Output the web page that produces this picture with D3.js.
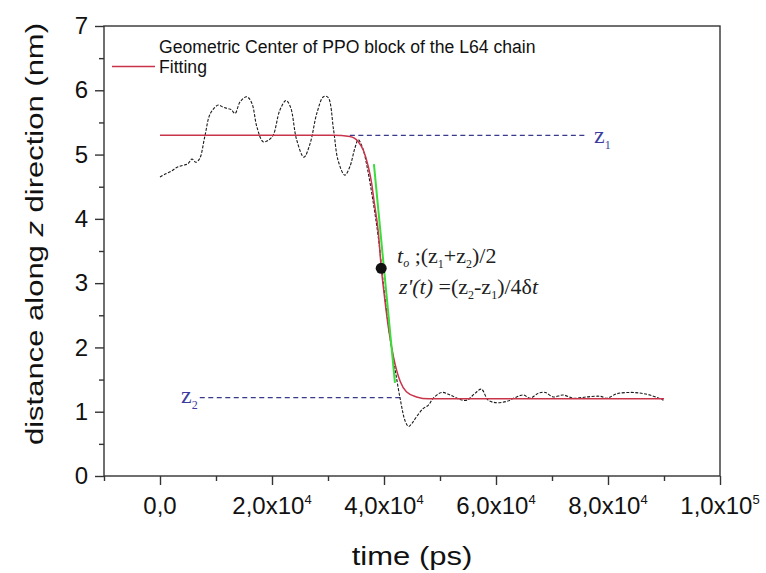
<!DOCTYPE html>
<html><head><meta charset="utf-8">
<script src="https://cdn.jsdelivr.net/npm/d3@7"></script>
<style>body{margin:0;background:#fff}svg{display:block}</style>
</head><body>
<svg id="c" width="766" height="573"></svg>
<script>
// ---- data ----
const traceT = [0,1000,2000,3000,4000,5000,5700,6400,7100,8000,9000,10400,11200,11900,12700,13400,14300,15500,16400,17300,18400,19300,20200,21400,22500,23300,24400,25700,26800,28000,29200,30000,31000,31800,33000,33900,34800,35400,36200,37000,38000,39000,40000,41000,42000,43000,43800,44400,45000,45800,47000,47900,48800,50300,51800,53600,54800,56300,57400,58600,60100,61900,63700,64900,66100,67600,68800,70200,72000,73800,76200,78600,79800,81600,84000,85700,87500,89900];
const traceZ = [4.65,4.70,4.74,4.80,4.83,4.86,4.93,4.88,4.94,5.28,5.64,5.77,5.74,5.72,5.70,5.64,5.82,5.90,5.80,5.43,5.20,5.22,5.30,5.69,5.84,5.74,5.23,4.96,5.17,5.64,5.90,5.89,5.38,4.91,4.68,4.81,5.10,5.23,5.10,4.80,4.30,3.70,2.90,2.20,1.65,1.15,0.85,0.77,0.82,0.92,1.05,1.10,1.21,1.30,1.26,1.19,1.18,1.29,1.35,1.18,1.14,1.16,1.23,1.26,1.21,1.29,1.30,1.23,1.26,1.21,1.23,1.24,1.21,1.28,1.30,1.29,1.26,1.18];
const fitT = [0,31000,33900,35400,36300,37200,37800,38200,39000,39500,40000,40800,41700,42900,44000,45800,48000,90000];
const fitZ = [5.30,5.30,5.28,5.20,5.07,4.81,4.55,4.29,3.78,3.25,2.85,2.30,1.85,1.47,1.31,1.23,1.20,1.20];
const tangentT = [38200,41960];
const tangentZ = [4.85,1.45];
const midPoint = {t:39500, z:3.23};
const z1Line = {t0:33900, t1:76400, z:5.30};
const z2Line = {t0:7100, t1:43000, z:1.22};
const xMajor = [0,20000,40000,60000,80000,100000];
const xMinor = [-10000,10000,30000,50000,70000,90000];
const xLabelMant = ["0,0","2,0","4,0","6,0","8,0","1,0"];
const xLabelExp = [null,"4","4","4","4","5"];
const yMajor = [0,1,2,3,4,5,6,7];
const yMinor = [0.5,1.5,2.5,3.5,4.5,5.5,6.5];
const legendLabels = ["Geometric Center of PPO block of the L64 chain","Fitting"];

// ---- layout ----
const L=104, R=720, T=26, B=476;
const svg = d3.select("#c");
const x = d3.scaleLinear().domain([-10000,100000]).range([L,R]);
const y = d3.scaleLinear().domain([0,7]).range([B,T]);
const axisCol = "#333";
const sans = "'Liberation Sans', Arial, sans-serif";
const serif = "'Liberation Serif', 'Times New Roman', serif";

// frame
svg.append("rect").attr("x",L).attr("y",T).attr("width",R-L).attr("height",B-T)
  .attr("fill","none").attr("stroke",axisCol).attr("stroke-width",1.4);

// axes
const gx = svg.append("g").attr("transform",`translate(0,${B})`)
  .call(d3.axisBottom(x).tickValues(xMajor).tickSize(9).tickFormat(""));
const gxm = svg.append("g").attr("transform",`translate(0,${B})`)
  .call(d3.axisBottom(x).tickValues(xMinor).tickSize(5).tickFormat(""));
const gy = svg.append("g").attr("transform",`translate(${L},0)`)
  .call(d3.axisLeft(y).tickValues(yMajor).tickSize(9).tickPadding(7).tickFormat(d3.format("d")));
const gym = svg.append("g").attr("transform",`translate(${L},0)`)
  .call(d3.axisLeft(y).tickValues(yMinor).tickSize(5).tickFormat(""));
[gx,gxm,gy,gym].forEach(g=>{
  g.select(".domain").remove();
  g.selectAll(".tick line").attr("stroke",axisCol).attr("stroke-width",1.4);
});
gy.selectAll(".tick text").attr("font-family",sans).attr("font-size",24).attr("fill","#111");

// x tick labels with superscripts
const xl = svg.append("g");
xMajor.forEach((v,i)=>{
  const t = xl.append("text").attr("x",x(v)).attr("y",514)
    .attr("text-anchor","middle").attr("font-family",sans).attr("font-size",24).attr("fill","#111");
  if(xLabelExp[i]){
    t.append("tspan").text(xLabelMant[i]+"x10");
    t.append("tspan").attr("font-size",13).attr("dy",-10).text(xLabelExp[i]);
  } else t.text(xLabelMant[i]);
});

// axis titles
svg.append("text").attr("transform","translate(412,565) scale(1,0.82)")
  .attr("text-anchor","middle").attr("font-family",sans).attr("font-size",31).attr("fill","#111")
  .text("time (ps)");
const yt = svg.append("text").attr("transform","translate(43,234) rotate(-90) scale(1,0.8)")
  .attr("text-anchor","middle").attr("font-family",sans).attr("font-size",31).attr("fill","#111");
yt.append("tspan").text("distance along ");
yt.append("tspan").attr("font-style","italic").text("z");
yt.append("tspan").text(" direction (nm)");

// guide lines
const guideCol = "#3a3a8c";
[z1Line,z2Line].forEach(g=>{
  svg.append("line").attr("x1",x(g.t0)).attr("x2",x(g.t1)).attr("y1",y(g.z)).attr("y2",y(g.z))
    .attr("stroke",guideCol).attr("stroke-width",1.3).attr("stroke-dasharray","5,3.5");
});

// trace (dashed black)
const trace = traceT.map((t,i)=>[t,traceZ[i]]);
svg.append("path").datum(trace)
  .attr("d",d3.line().x(d=>x(d[0])).y(d=>y(d[1])).curve(d3.curveCatmullRom))
  .attr("fill","none").attr("stroke","#1a1a1a").attr("stroke-width",1.1).attr("stroke-dasharray","3,1.5");

// fitting (red)
const fit = fitT.map((t,i)=>[t,fitZ[i]]);
svg.append("path").datum(fit)
  .attr("d",d3.line().x(d=>x(d[0])).y(d=>y(d[1])).curve(d3.curveMonotoneX))
  .attr("fill","none").attr("stroke","#c9344a").attr("stroke-width",1.5);

// tangent (green)
svg.append("line").attr("x1",x(tangentT[0])).attr("y1",y(tangentZ[0]))
  .attr("x2",x(tangentT[1])).attr("y2",y(tangentZ[1]))
  .attr("stroke","#3bdc3b").attr("stroke-width",2);

// midpoint dot
svg.append("circle").attr("cx",x(midPoint.t)).attr("cy",y(midPoint.z)).attr("r",5.5).attr("fill","#111");

// legend
svg.append("line").attr("x1",112).attr("x2",155).attr("y1",66.5).attr("y2",66.5)
  .attr("stroke","#c9344a").attr("stroke-width",1.4);
svg.append("text").attr("x",159).attr("y",53).attr("font-family",sans).attr("font-size",17.6).attr("fill","#111").text(legendLabels[0]);
svg.append("text").attr("x",159).attr("y",72.5).attr("font-family",sans).attr("font-size",17.6).attr("fill","#111").text(legendLabels[1]);

// annotations
const a1 = svg.append("text").attr("x",397).attr("y",263).attr("font-family",serif).attr("font-size",22).attr("fill","#222");
a1.append("tspan").attr("font-style","italic").text("t");
a1.append("tspan").attr("font-style","italic").attr("font-size",12).attr("dy",4).text("o");
a1.append("tspan").attr("dy",-4).text(" ;(z");
a1.append("tspan").attr("font-size",12).attr("dy",5).text("1");
a1.append("tspan").attr("dy",-5).text("+z");
a1.append("tspan").attr("font-size",12).attr("dy",5).text("2");
a1.append("tspan").attr("dy",-5).text(")/2");

const a2 = svg.append("text").attr("x",399).attr("y",294).attr("font-family",serif).attr("font-size",22).attr("fill","#222");
a2.append("tspan").attr("font-style","italic").text("z'(t)");
a2.append("tspan").text(" =(z");
a2.append("tspan").attr("font-size",12).attr("dy",5).text("2");
a2.append("tspan").attr("dy",-5).text("-z");
a2.append("tspan").attr("font-size",12).attr("dy",5).text("1");
a2.append("tspan").attr("dy",-5).text(")/4δ");
a2.append("tspan").attr("font-style","italic").text("t");

// z labels
const zl1 = svg.append("text").attr("x",594).attr("y",143).attr("font-family",serif).attr("font-size",24).attr("fill","#3c3ca0");
zl1.append("tspan").text("z");
zl1.append("tspan").attr("font-size",12).attr("dy",6).text("1");
const zl2 = svg.append("text").attr("x",181).attr("y",403).attr("font-family",serif).attr("font-size",24).attr("fill","#3c3ca0");
zl2.append("tspan").text("z");
zl2.append("tspan").attr("font-size",12).attr("dy",6).text("2");
</script>
</body></html>
